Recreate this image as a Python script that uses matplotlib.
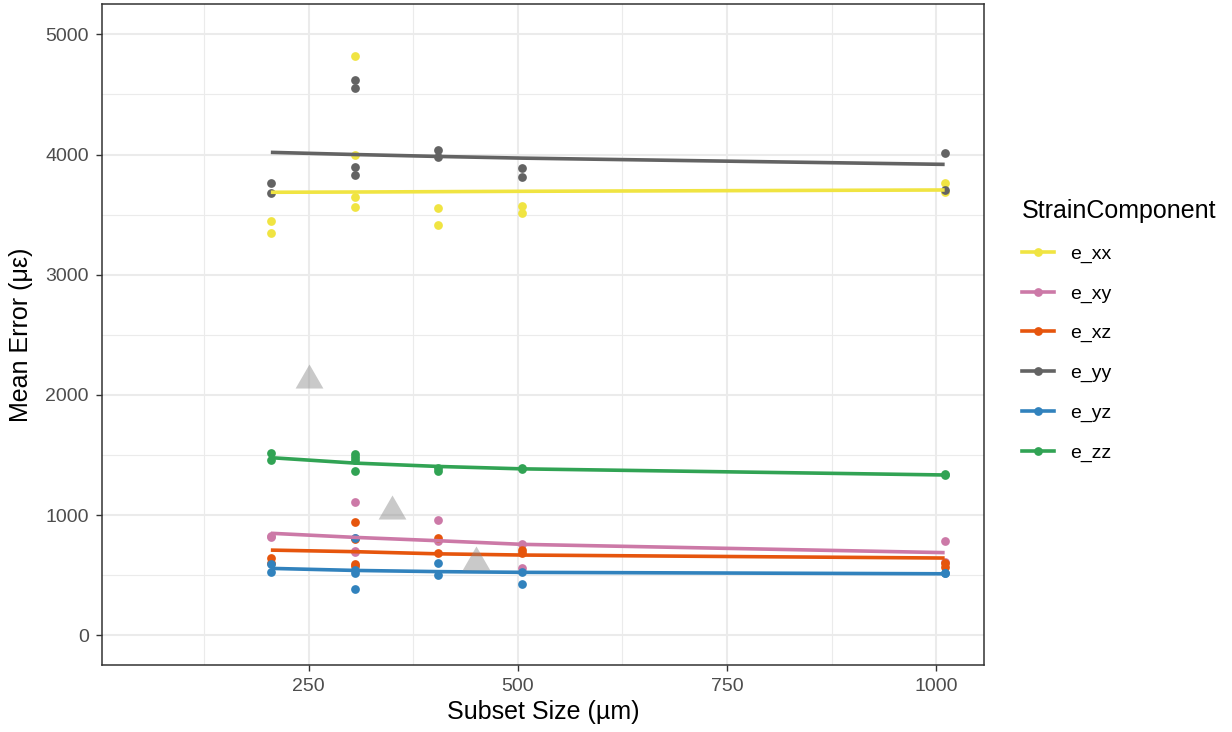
import matplotlib.pyplot as plt
from matplotlib.lines import Line2D
from matplotlib.ticker import MultipleLocator

plt.rcParams['font.family'] = ['Liberation Sans', 'DejaVu Sans']

# data
components = ['e_xx', 'e_xy', 'e_xz', 'e_yy', 'e_yz', 'e_zz']
colors = ['#F0E442', '#CC79A7', '#E6550D', '#636363', '#3182BD', '#31A354']

subset_sizes = [205, 305, 405, 505, 1010]
point_x = [205, 205, 305, 305, 305, 305, 405, 405, 505, 505, 1010, 1010]

pts_e_xx = [3447, 3344, 4822, 3996, 3649, 3561, 3558, 3411, 3574, 3511, 3763, 3690]
pts_e_xy = [826, 820, 1112, 810, 701, 690, 959, 785, 760, 562, 784, 612]
pts_e_xz = [640, 600, 945, 800, 593, 578, 807, 682, 709, 682, 600, 571]
pts_e_yy = [3760, 3683, 4619, 4550, 3898, 3829, 4037, 3977, 3890, 3816, 4010, 3705]
pts_e_yz = [593, 527, 807, 540, 521, 383, 604, 502, 525, 427, 520, 516]
pts_e_zz = [1515, 1455, 1510, 1485, 1455, 1370, 1392, 1370, 1390, 1382, 1345, 1335]

# fitted trend values at each subset size
fit_e_xx = [3686, 3688, 3691, 3694, 3705]
fit_e_xy = [849, 815, 787, 757, 688]
fit_e_xz = [709, 696, 678, 668, 643]
fit_e_yy = [4018, 4000, 3984, 3970, 3918]
fit_e_yz = [557, 540, 530, 524, 512]
fit_e_zz = [1478, 1433, 1405, 1385, 1334]

# grey reference triangles
ref_x = [250, 350, 450]
ref_y = [2160, 1065, 640]

points = [pts_e_xx, pts_e_xy, pts_e_xz, pts_e_yy, pts_e_yz, pts_e_zz]
fits = [fit_e_xx, fit_e_xy, fit_e_xz, fit_e_yy, fit_e_yz, fit_e_zz]

fig = plt.figure(figsize=(12.32, 7.32), dpi=100)
ax = fig.add_axes([0.0826, 0.0915, 0.7161, 0.903])

for pts, col in zip(points, colors):
    ax.plot(point_x, pts, 'o', color=col, ms=6.3, mew=0, zorder=3)
for fit, col in zip(fits, colors):
    ax.plot(subset_sizes, fit, '-', color=col, lw=2.6, zorder=4,
            solid_capstyle='butt')

tri = [(0, 0.866), (-1, -0.866), (1, -0.866)]
ax.plot(ref_x, ref_y, linestyle='none', marker=tri, ms=20, mew=0,
        color='#888888', alpha=0.45, zorder=5)

ax.set_xlim(3, 1057)
ax.set_ylim(-247, 5252)
ax.xaxis.set_major_locator(MultipleLocator(250))
ax.xaxis.set_minor_locator(MultipleLocator(125))
ax.yaxis.set_major_locator(MultipleLocator(1000))
ax.yaxis.set_minor_locator(MultipleLocator(500))
ax.set_xticks([250, 500, 750, 1000])

ax.grid(which='major', color='#EBEBEB', lw=1.5)
ax.grid(which='minor', color='#EBEBEB', lw=0.8)
ax.set_axisbelow(True)
ax.tick_params(which='major', length=4.3, width=1, color='#333333',
               labelsize=14, labelcolor='#4D4D4D', pad=5)
ax.tick_params(which='minor', length=0)
for s in ax.spines.values():
    s.set_color('#333333')
    s.set_linewidth(1.1)

ax.set_xlabel('Subset Size (µm)', fontsize=18, labelpad=4)
ax.set_ylabel('Mean Error (με)', fontsize=18, labelpad=9)

handles = [Line2D([], [], color=c, lw=2.6, marker='o', ms=6.3, mew=0)
           for c in colors]
leg = fig.legend(handles, components, loc='upper left',
                 bbox_to_anchor=(1022 / 1232, 1 - 199 / 732),
                 frameon=False, fontsize=14, title='StrainComponent',
                 title_fontsize=18, alignment='left', handlelength=1.65,
                 handletextpad=0.85, labelspacing=1.13, borderpad=0,
                 borderaxespad=0)

fig.savefig('out.png', dpi=100)
